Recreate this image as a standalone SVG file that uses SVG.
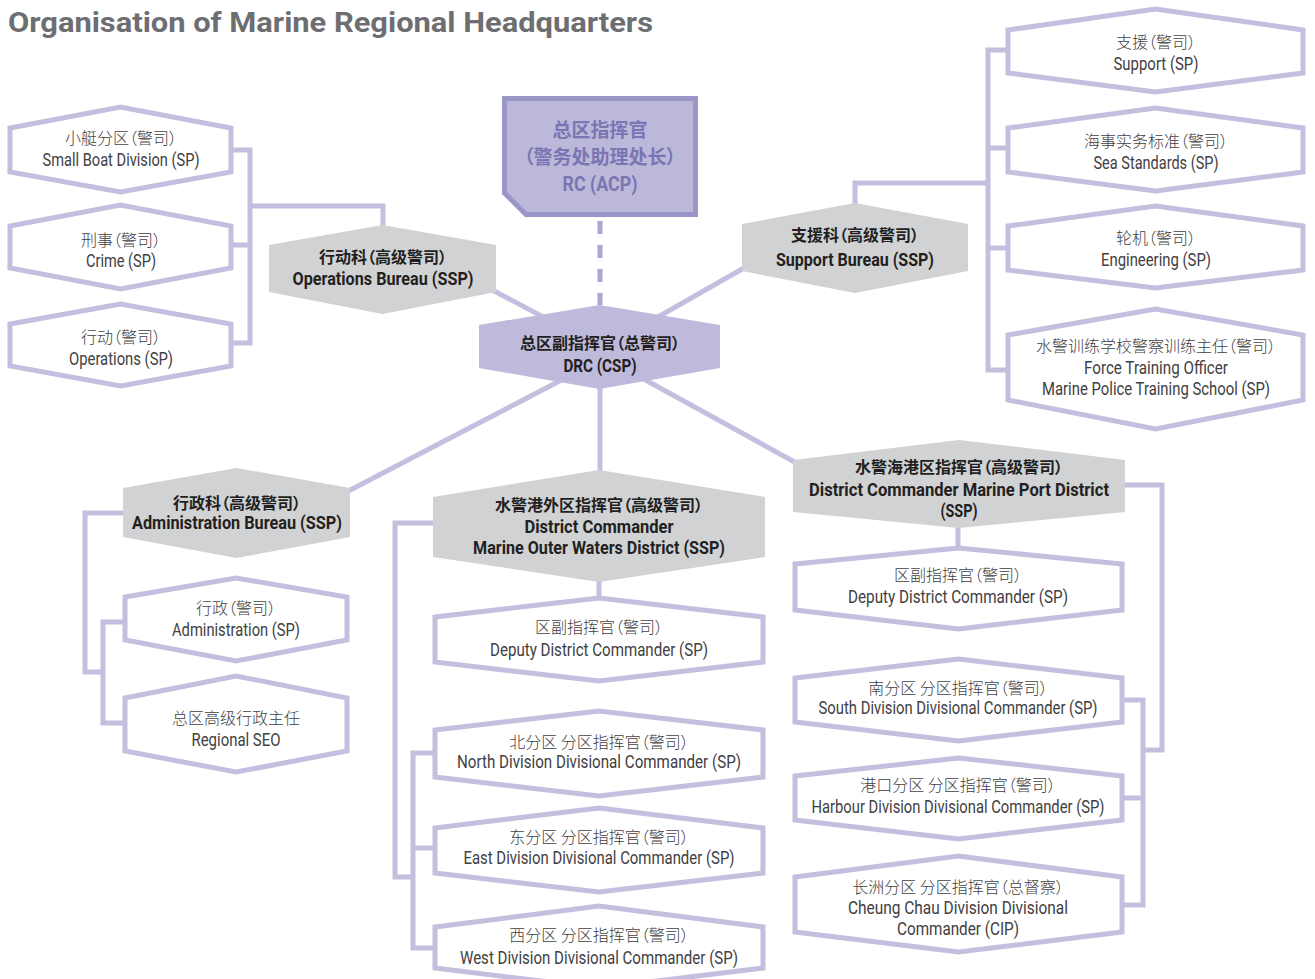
<svg xmlns="http://www.w3.org/2000/svg" width="1315" height="979" viewBox="0 0 1315 979">
<style>
.hw{fill:#fff;stroke:#c3bfde;stroke-width:5;stroke-linejoin:miter}
.hg{fill:#d1d2d4}
.con{fill:none;stroke:#c3bfde;stroke-width:5}
.cn{font-family:"Noto Sans CJK SC",sans-serif;font-size:16px;font-weight:300;fill:#414042;text-anchor:middle;font-feature-settings:"palt"}
.en{font-family:Roboto,"Liberation Sans","Noto Sans CJK SC",sans-serif;font-size:18px;font-weight:400;fill:#414042;text-anchor:middle}
.cb{font-family:"Noto Sans CJK SC",sans-serif;font-size:16px;font-weight:700;fill:#231f20;text-anchor:middle;font-feature-settings:"palt"}
.eb{font-family:Roboto,"Liberation Sans","Noto Sans CJK SC",sans-serif;font-size:18px;font-weight:700;fill:#231f20;text-anchor:middle}
.rc{font-family:"Noto Sans CJK SC",sans-serif;font-size:19px;font-weight:700;fill:#7a75b3;text-anchor:middle;font-feature-settings:"palt"}
.rce{font-family:Roboto,"Liberation Sans",sans-serif;font-size:21px;font-weight:700;fill:#7a75b3;text-anchor:middle}
</style>
<text x="8" y="32" font-family="Roboto,'Liberation Sans',sans-serif" font-size="28" font-weight="700" fill="#6d6e71" textLength="645" lengthAdjust="spacingAndGlyphs">Organisation of Marine Regional Headquarters</text>
<g id="connectors">
<path class="con" d="M231 150 H250 V343 H231 M231 245 H250 M250 206 H383 V230"/>
<path class="con" d="M1008 50 H988 V370 H1008 M1008 148 H988 M1008 248 H988 M988 183 H855 V206"/>
<path class="con" d="M125 513 H85 V672 H103 M125 622 H103 V723 H125"/>
<path class="con" d="M433 523 H395 V877 H413 M435 753 H413 V948 H435 M435 848 H413 M599 580 V600"/>
<path class="con" d="M1125 485 H1162 V750 H1143 M1122 700 H1143 V905 H1122 M1122 798 H1143 M958 526 V550"/>
<path class="con" d="M600 347 L383 232 M600 350 L800 236 M600 360 L260 537 M600 355 L860 498 M600 385 V475"/>
<path fill="none" stroke="#aaa6d1" stroke-width="5" stroke-dasharray="13 11" d="M600 221 V305"/>
</g>
<g id="rc">
<polygon points="504.5,98.5 695.5,98.5 695.5,214.5 526,214.5 504.5,193" fill="#bcb8da" stroke="#9b96c8" stroke-width="5"/>
<text class="rc" x="600" y="137">总区指挥官</text>
<text class="rc" x="600" y="164">（警务处助理处长）</text>
<text class="rce" x="600" y="191" textLength="75" lengthAdjust="spacingAndGlyphs">RC (ACP)</text>
</g>
<g id="drc">
<polygon points="479,325 599.5,305 720,325 720,368 599.5,389 479,368" fill="#bebadb"/>
<text class="cb" x="600" y="349">总区副指挥官（总警司）</text>
<text class="eb" x="600" y="372" textLength="73" lengthAdjust="spacingAndGlyphs">DRC (CSP)</text>
</g>
<g id="ops-bureau">
<polygon class="hg" points="269,245 382.5,225 496,245 496,292 382.5,314 269,292"/>
<text class="cb" x="383" y="263">行动科（高级警司）</text>
<text class="eb" x="383" y="285" textLength="181" lengthAdjust="spacingAndGlyphs">Operations Bureau (SSP)</text>
</g>
<g id="small-boat">
<polygon class="hw" points="10,128 120.5,107 231,128 231,172 120.5,192 10,172"/>
<text class="cn" x="121" y="144">小艇分区（警司）</text>
<text class="en" x="121" y="166" textLength="157" lengthAdjust="spacingAndGlyphs">Small Boat Division (SP)</text>
</g>
<g id="crime">
<polygon class="hw" points="10,226 120.5,205 231,226 231,268 120.5,289 10,268"/>
<text class="cn" x="121" y="246">刑事（警司）</text>
<text class="en" x="121" y="267" textLength="70" lengthAdjust="spacingAndGlyphs">Crime (SP)</text>
</g>
<g id="operations">
<polygon class="hw" points="10,324 120.5,304 231,324 231,366 120.5,386 10,366"/>
<text class="cn" x="121" y="343">行动（警司）</text>
<text class="en" x="121" y="365" textLength="104" lengthAdjust="spacingAndGlyphs">Operations (SP)</text>
</g>
<g id="support-bureau">
<polygon class="hg" points="742,224 855,203 968,224 968,271 855,293 742,271"/>
<text class="cb" x="855" y="241">支援科（高级警司）</text>
<text class="eb" x="855" y="266" textLength="158" lengthAdjust="spacingAndGlyphs">Support Bureau (SSP)</text>
</g>
<g id="support">
<polygon class="hw" points="1008,30 1155.5,9 1303,30 1303,73 1155.5,92 1008,73"/>
<text class="cn" x="1156" y="48">支援（警司）</text>
<text class="en" x="1156" y="70" textLength="85" lengthAdjust="spacingAndGlyphs">Support (SP)</text>
</g>
<g id="sea-standards">
<polygon class="hw" points="1008,128 1155.5,108 1303,128 1303,172 1155.5,191 1008,172"/>
<text class="cn" x="1156" y="147">海事实务标准（警司）</text>
<text class="en" x="1156" y="169" textLength="125" lengthAdjust="spacingAndGlyphs">Sea Standards (SP)</text>
</g>
<g id="engineering">
<polygon class="hw" points="1008,226 1155.5,206 1303,226 1303,270 1155.5,288 1008,270"/>
<text class="cn" x="1156" y="244">轮机（警司）</text>
<text class="en" x="1156" y="266" textLength="110" lengthAdjust="spacingAndGlyphs">Engineering (SP)</text>
</g>
<g id="force-training">
<polygon class="hw" points="1008,335 1155.5,309 1303,335 1303,400 1155.5,429 1008,400"/>
<text class="cn" x="1156" y="352">水警训练学校警察训练主任（警司）</text>
<text class="en" x="1156" y="374" textLength="144" lengthAdjust="spacingAndGlyphs">Force Training Officer</text>
<text class="en" x="1156" y="395" textLength="228" lengthAdjust="spacingAndGlyphs">Marine Police Training School (SP)</text>
</g>
<g id="admin-bureau">
<polygon class="hg" points="123,488 236.5,468 350,488 350,537 236.5,558 123,537"/>
<text class="cb" x="237" y="509">行政科（高级警司）</text>
<text class="eb" x="237" y="529" textLength="210" lengthAdjust="spacingAndGlyphs">Administration Bureau (SSP)</text>
</g>
<g id="administration">
<polygon class="hw" points="125,597 236,578 347,597 347,640 236,661 125,640"/>
<text class="cn" x="236" y="614">行政（警司）</text>
<text class="en" x="236" y="636" textLength="128" lengthAdjust="spacingAndGlyphs">Administration (SP)</text>
</g>
<g id="regional-seo">
<polygon class="hw" points="125,698 236,676 347,698 347,751 236,772 125,751"/>
<text class="cn" x="236" y="724">总区高级行政主任</text>
<text class="en" x="236" y="746" textLength="89" lengthAdjust="spacingAndGlyphs">Regional SEO</text>
</g>
<g id="outer-waters">
<polygon class="hg" points="433,497 599,470 765,497 765,557 599,582 433,557"/>
<text class="cb" x="599" y="511">水警港外区指挥官（高级警司）</text>
<text class="eb" x="599" y="533" textLength="149" lengthAdjust="spacingAndGlyphs">District Commander</text>
<text class="eb" x="599" y="554" textLength="252" lengthAdjust="spacingAndGlyphs">Marine Outer Waters District (SSP)</text>
</g>
<g id="deputy-outer">
<polygon class="hw" points="435,617 599,598 763,617 763,662 599,681 435,662"/>
<text class="cn" x="599" y="633">区副指挥官（警司）</text>
<text class="en" x="599" y="656" textLength="218" lengthAdjust="spacingAndGlyphs">Deputy District Commander (SP)</text>
</g>
<g id="north">
<polygon class="hw" points="435,730 599,711 763,730 763,777 599,796 435,777"/>
<text class="cn" x="599" y="748">北分区 分区指挥官（警司）</text>
<text class="en" x="599" y="768" textLength="284" lengthAdjust="spacingAndGlyphs">North Division Divisional Commander (SP)</text>
</g>
<g id="east">
<polygon class="hw" points="435,828 599,808 763,828 763,873 599,892 435,873"/>
<text class="cn" x="599" y="843">东分区 分区指挥官（警司）</text>
<text class="en" x="599" y="864" textLength="271" lengthAdjust="spacingAndGlyphs">East Division Divisional Commander (SP)</text>
</g>
<g id="west">
<polygon class="hw" points="435,927 599,906 763,927 763,968 599,988 435,968"/>
<text class="cn" x="599" y="941">西分区 分区指挥官（警司）</text>
<text class="en" x="599" y="964" textLength="278" lengthAdjust="spacingAndGlyphs">West Division Divisional Commander (SP)</text>
</g>
<g id="port-district">
<polygon class="hg" points="793,460 959,440 1125,460 1125,512 959,528 793,512"/>
<text class="cb" x="959" y="473">水警海港区指挥官（高级警司）</text>
<text class="eb" x="959" y="496" textLength="300" lengthAdjust="spacingAndGlyphs">District Commander Marine Port District</text>
<text class="eb" x="959" y="517" textLength="37" lengthAdjust="spacingAndGlyphs">(SSP)</text>
</g>
<g id="deputy-port">
<polygon class="hw" points="795,564 958.5,548 1122,564 1122,610 958.5,629 795,610"/>
<text class="cn" x="958" y="581">区副指挥官（警司）</text>
<text class="en" x="958" y="603" textLength="220" lengthAdjust="spacingAndGlyphs">Deputy District Commander (SP)</text>
</g>
<g id="south">
<polygon class="hw" points="795,678 958.5,659 1122,678 1122,722 958.5,741 795,722"/>
<text class="cn" x="958" y="694">南分区 分区指挥官（警司）</text>
<text class="en" x="958" y="714" textLength="279" lengthAdjust="spacingAndGlyphs">South Division Divisional Commander (SP)</text>
</g>
<g id="harbour">
<polygon class="hw" points="795,776 958.5,758 1122,776 1122,820 958.5,839 795,820"/>
<text class="cn" x="958" y="791">港口分区 分区指挥官（警司）</text>
<text class="en" x="958" y="813" textLength="293" lengthAdjust="spacingAndGlyphs">Harbour Division Divisional Commander (SP)</text>
</g>
<g id="cheung-chau">
<polygon class="hw" points="795,877 958.5,856 1122,877 1122,932 958.5,952 795,932"/>
<text class="cn" x="958" y="893">长洲分区 分区指挥官（总督察）</text>
<text class="en" x="958" y="914" textLength="220" lengthAdjust="spacingAndGlyphs">Cheung Chau Division Divisional</text>
<text class="en" x="958" y="935" textLength="122" lengthAdjust="spacingAndGlyphs">Commander (CIP)</text>
</g>
</svg>
